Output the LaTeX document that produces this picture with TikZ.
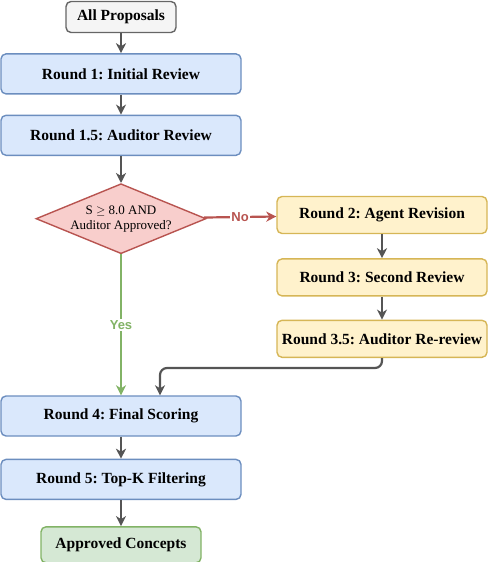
\documentclass[tikz,border=0pt]{standalone}
\usepackage{fontspec}
\setmainfont{Liberation Serif}
\newfontfamily\lblfont{Liberation Sans}
\usepackage{tikz}
\usetikzlibrary{calc}
\usetikzlibrary{positioning}
\usetikzlibrary{shapes.geometric}
\usetikzlibrary{arrows.meta}

\definecolor{bluefill}{HTML}{DAE8FC}
\definecolor{bluedraw}{HTML}{6C8EBF}
\definecolor{yellowfill}{HTML}{FFF2CC}
\definecolor{yellowdraw}{HTML}{D6B656}
\definecolor{greenfill}{HTML}{D5E8D4}
\definecolor{greendraw}{HTML}{82B366}
\definecolor{redfill}{HTML}{F8CECC}
\definecolor{reddraw}{HTML}{B85450}
\definecolor{grayfill}{HTML}{F5F5F5}
\definecolor{graydraw}{HTML}{666666}
\definecolor{arrowgray}{HTML}{555555}

\frenchspacing

\begin{document}
\begin{tikzpicture}[x=1pt, y=-1pt]

                \def\d{20pt}

                % Styles for the boxes and the arrows
                \tikzset{
                    box/.style={rectangle, rounded corners=5pt, line width=1.4pt,
                        inner sep=0pt, font=\fontsize{15.5}{17}\selectfont\bfseries},
                    bluebox/.style={box, fill=bluefill, draw=bluedraw,
                        minimum width=240pt, minimum height=40pt},
                    yellowbox/.style={box, fill=yellowfill, draw=yellowdraw,
                        minimum width=210pt, minimum height=37pt},
                    decision/.style={diamond, aspect=2.43, line width=1.4pt,
                        fill=redfill, draw=reddraw, inner sep=0pt,
                        minimum width=170pt, minimum height=70pt, align=center,
                        font=\fontsize{13}{15}\selectfont},
                    arr/.style={draw=arrowgray, line width=2.2pt,
                        -{Stealth[length=10pt, width=10pt, inset=3pt]}},
                    lbl/.style={fill=white, inner sep=1.5pt,
                        font=\lblfont\fontsize{13}{15}\selectfont\bfseries}
                }

                \useasboundingbox (0,0) rectangle (489,562);

                % Main column on the left
                \begin{scope}
                    \node[box, fill=grayfill, draw=graydraw,
                        minimum width=110pt, minimum height=31pt] (allp) at (121, 17)
                    {All Proposals};
                    \node[bluebox] (r1) [below=\d of allp]
                    {Round 1: Initial Review};
                    \node[bluebox] (r15) [below=\d of r1]
                    {Round 1.5: Auditor Review};
                    \node[decision] (dec) [below=27pt of r15]
                    {S $\geq$ 8.0 AND\\Auditor Approved?};
                    \node[bluebox] (r4) at (121, 416)
                    {Round 4: Final Scoring};
                    \node[bluebox] (r5) [below=22pt of r4]
                    {Round 5: Top-K Filtering};
                    \node[box, fill=greenfill, draw=greendraw,
                        minimum width=160pt, minimum height=36pt] (appr) [below=26pt of r5]
                    {Approved Concepts};
                \end{scope}

                % Revision column on the right
                \begin{scope}
                    \node[yellowbox] (r2) at (382, 215)
                    {Round 2: Agent Revision};
                    \node[yellowbox] (r3) [below=24pt of r2]
                    {Round 3: Second Review};
                    \node[yellowbox] (r35) [below=23pt of r3]
                    {Round 3.5: Auditor Re-review};
                \end{scope}

                \coordinate (back) at (160, 368);

                \begin{scope}
                    \draw[arr] (allp) -- (r1);
                    \draw[arr] (r1) -- (r15);
                    \draw[arr] (r15) -- (dec);
                    \draw[arr, draw=reddraw] (dec) -- node[lbl, text=reddraw] {No} (r2);
                    \draw[arr, draw=greendraw] (dec) -- node[lbl, text=greendraw] {Yes} (r4);
                    \draw[arr] (r2) -- (r3);
                    \draw[arr] (r3) -- (r35);
                    \draw[arr, rounded corners=7pt] (r35.south) |- (back) -- (r4.north -| back);
                    \draw[arr] (r4) -- (r5);
                    \draw[arr] (r5) -- (appr);
                \end{scope}

                \end{tikzpicture}
\end{document}
